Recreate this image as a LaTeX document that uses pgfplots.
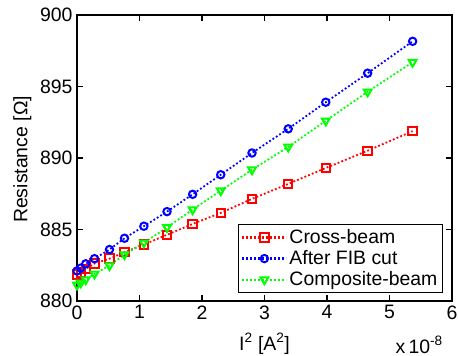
\documentclass[border=0pt]{standalone}
\usepackage{fontspec}
\setmainfont{Liberation Sans}
\usepackage{pgfplots}
\pgfplotsset{compat=1.18}

% Resistance versus squared current, x values in units of 1e-8 A^2
\pgfplotstableread{
x     r
0.00  881.85
0.06  881.95
0.14  882.25
0.28  882.62
0.52  882.96
0.76  883.41
1.07  883.95
1.44  884.63
1.85  885.39
2.30  886.16
2.80  887.14
3.38  888.19
3.98  889.30
4.65  890.51
5.37  891.88
}\crossbeam
\pgfplotstableread{
x     r
0.00  882.10
0.06  882.30
0.14  882.60
0.28  882.96
0.52  883.60
0.76  884.39
1.07  885.23
1.44  886.25
1.85  887.46
2.30  888.83
2.80  890.35
3.38  892.04
3.98  893.90
4.65  895.93
5.37  898.16
}\fibcut
\pgfplotstableread{
x     r
0.00  881.13
0.06  881.27
0.14  881.50
0.28  881.90
0.52  882.48
0.76  883.25
1.07  884.07
1.44  885.15
1.85  886.39
2.30  887.72
2.80  889.18
3.38  890.77
3.98  892.60
4.65  894.63
5.37  896.70
}\composite

\newcommand{\chartfont}{\fontsize{19.5}{22}\selectfont}

\begin{document}
\begin{tikzpicture}
\begin{axis}[
  scale only axis,
  width=375bp, height=286bp,
  xmin=0, xmax=6, ymin=880, ymax=900,
  xtick={0,1,2,3,4,5,6},
  ytick={880,885,890,895,900},
  scaled ticks=false,
  /pgf/number format/assume math mode=true,
  /pgf/number format/1000 sep={},
  tick align=inside,
  major tick length=6bp,
  every tick/.style={black, line width=1.2bp},
  axis line style={line width=1.5bp},
  tick label style={font=\chartfont},
  yticklabel style={xshift=-1bp},
  xticklabel style={yshift=-1bp},
  label style={font=\chartfont},
  xlabel={I\textsuperscript{2} [A\textsuperscript{2}]},
  ylabel={Resistance [Ω]},
  xlabel style={at={(axis description cs:0.5,-0.150)}, anchor=center},
  ylabel style={at={(axis description cs:-0.146,0.495)}, anchor=center},
  legend style={at={(axis description cs:0.976,0.028)}, anchor=south east,
    draw=black, font=\chartfont,
    inner xsep=3bp, inner ysep=3bp, row sep=1.5bp},
  every axis legend/.append style={line width=1.2bp},
  legend cell align=left,
  legend image code/.code={
    \draw[mark repeat=2, mark phase=2, line width=2.2bp]
      plot coordinates {(0bp,0bp) (22bp,0bp) (44bp,0bp)};},
  every axis plot/.append style={line width=1.8bp, dash pattern=on 1.8bp off 2.2bp},
]
\addplot[color={rgb,1:red,1;green,0;blue,0}, mark=square, mark size=4.2bp,
  mark options={solid, line width=2bp}] table[x=x, y=r] {\crossbeam};
\addlegendentry{Cross-beam}
\addplot[color={rgb,1:red,0;green,0;blue,1}, mark=o, mark size=3.7bp,
  mark options={solid, line width=2bp}] table[x=x, y=r] {\fibcut};
\addlegendentry{After FIB cut}
\addplot[color={rgb,1:red,0;green,1;blue,0}, mark=triangle, mark size=4.5bp,
  mark options={solid, rotate=180, line width=2bp}] table[x=x, y=r] {\composite};
\addlegendentry{Composite-beam}
\end{axis}
% multiplier of the x axis, below its right end
\node[anchor=base east, font=\chartfont, inner sep=0pt]
  at (366bp,-52bp) {x\,10\textsuperscript{-8}};
\pgfresetboundingbox
\path (-77bp,-55bp) rectangle (381bp,301bp);
\end{tikzpicture}
\end{document}
